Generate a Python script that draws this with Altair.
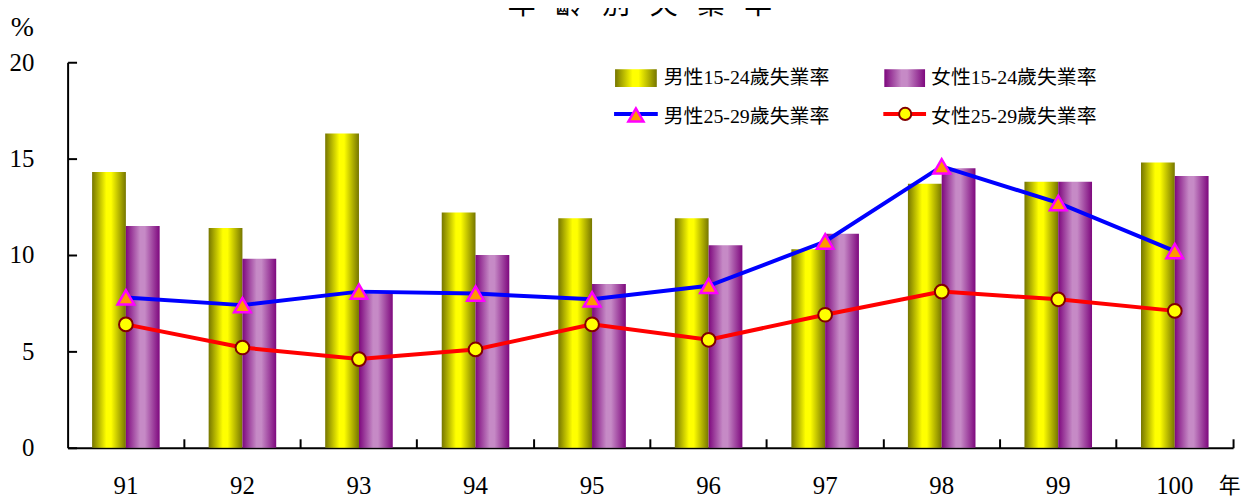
import altair as alt
import pandas as pd

# ---------------- data ----------------
years = ["91", "92", "93", "94", "95", "96", "97", "98", "99", "100"]
series_names = ["男性15-24歲失業率", "女性15-24歲失業率", "男性25-29歲失業率", "女性25-29歲失業率"]
male_15_24 = [14.3, 11.4, 16.3, 12.2, 11.9, 11.9, 10.3, 13.7, 13.8, 14.8]
female_15_24 = [11.5, 9.8, 8.0, 10.0, 8.5, 10.5, 11.1, 14.5, 13.8, 14.1]
male_25_29 = [7.8, 7.4, 8.1, 8.0, 7.7, 8.4, 10.7, 14.6, 12.7, 10.2]
female_25_29 = [6.4, 5.2, 4.6, 5.1, 6.4, 5.6, 6.9, 8.1, 7.7, 7.1]
y_ticks = [0, 5, 10, 15, 20]
title_text = "年\u2002\u2009齡\u2002\u2009別\u2002\u2009失\u2002\u2009業\u2002\u2009率"
y_unit = "%"
x_unit = "年"

FONT = "'Liberation Serif', 'Times New Roman', 'DejaVu Serif', 'Noto Sans CJK TC', serif"
CJK = "'Noto Sans CJK TC', sans-serif"

bars_m = pd.DataFrame({"year": years, "series": series_names[0], "value": male_15_24})
bars_f = pd.DataFrame({"year": years, "series": series_names[1], "value": female_15_24})
line_m = pd.DataFrame({"year": years, "idx": list(range(len(years))), "value": male_25_29})
line_f = pd.DataFrame({"year": years, "idx": list(range(len(years))), "value": female_25_29})
one = pd.DataFrame({"k": [0]})

W, H = 1173, 388

x_scale = alt.Scale(domain=years, paddingInner=0, paddingOuter=0)
y_scale = alt.Scale(domain=[0, 20], nice=False)
xoff_scale = alt.Scale(domain=series_names[:2], paddingInner=0, paddingOuter=0.725)


def grad(edge, mid):
    return {
        "gradient": "linear", "x1": 0, "x2": 1, "y1": 0, "y2": 0,
        "stops": [
            {"offset": 0, "color": edge},
            {"offset": 0.42, "color": mid},
            {"offset": 0.56, "color": mid},
            {"offset": 1, "color": edge},
        ],
    }


yellow = grad("#767600", "#ffff00")
purple = grad("#7e087e", "#c68ac6")

# main axes (domain + labels)
x_axis_main = alt.Axis(
    orient="bottom", domainColor="black", domainWidth=2, ticks=False, tickSize=0,
    labelPadding=38, labelBaseline="middle", labelFontSize=25, labelFont=FONT,
    labelColor="black", labelAngle=0, grid=False,
    title=x_unit, titleX=1169, titleY=38, titleBaseline="middle", titleAlign="center",
    titleFont=CJK, titleFontSize=22, titleFontWeight="normal", titleColor="black",
)
y_axis_main = alt.Axis(
    orient="left", domainColor="black", domainWidth=2, ticks=False, tickSize=0,
    values=y_ticks, labelPadding=34, labelFontSize=25, labelFont=FONT, labelColor="black",
    grid=False, title=y_unit, titleAngle=0, titleX=-46, titleY=-35, titleAlign="center",
    titleBaseline="middle", titleFont=FONT, titleFontSize=28, titleFontWeight="normal",
    titleColor="black",
)
# inward tick axes
x_axis_ticks = alt.Axis(
    orient="bottom", domain=False, labels=False, ticks=True, tickSize=9, tickWidth=2,
    tickColor="black", bandPosition=1, offset=-9, title=None, grid=False,
)
y_axis_ticks = alt.Axis(
    orient="left", domain=False, labels=False, ticks=True, tickSize=9, tickWidth=2,
    tickColor="black", values=y_ticks, offset=-9, title=None, grid=False,
)

bar_m = alt.Chart(bars_m).mark_bar(fill=yellow).encode(
    x=alt.X("year:N", scale=x_scale, axis=x_axis_main, sort=years),
    xOffset=alt.XOffset("series:N", scale=xoff_scale),
    y=alt.Y("value:Q", scale=y_scale, axis=y_axis_main),
)
bar_f = alt.Chart(bars_f).mark_bar(fill=purple).encode(
    x=alt.X("year:N", scale=x_scale, axis=x_axis_ticks, sort=years),
    xOffset=alt.XOffset("series:N", scale=xoff_scale),
    y=alt.Y("value:Q", scale=y_scale, axis=y_axis_ticks),
)


def xy():
    return dict(
        x=alt.X("year:N", scale=x_scale, axis=None, sort=years),
        y=alt.Y("value:Q", scale=y_scale, axis=None),
        order=alt.Order("idx:Q"),
    )


ln_m = alt.Chart(line_m).mark_line(color="#0000ff", strokeWidth=4).encode(**xy())
ln_f = alt.Chart(line_f).mark_line(color="#ff0000", strokeWidth=4).encode(**xy())
pt_m = alt.Chart(line_m).mark_point(
    shape="triangle-up", filled=True, fill="#ff9900", stroke="#ff00ff",
    strokeWidth=2.5, size=280, opacity=1,
).encode(**xy())
pt_f = alt.Chart(line_f).mark_point(
    shape="circle", filled=True, fill="#ffff00", stroke="#800000",
    strokeWidth=2, size=190, opacity=1,
).encode(**xy())

# title
title = alt.Chart(one).mark_text(
    font=CJK, fontSize=28, align="center", baseline="alphabetic", color="black"
).encode(x=alt.value(576), y=alt.value(-49), text=alt.value(title_text))

# legend
def leg_text(label, x, y):
    return alt.Chart(one).mark_text(
        font=FONT, fontSize=20, align="left", baseline="middle", color="black"
    ).encode(x=alt.value(x), y=alt.value(y), text=alt.value(label))


leg = [
    alt.Chart(one).mark_rect(fill=yellow).encode(
        x=alt.value(551), x2=alt.value(593), y=alt.value(7), y2=alt.value(25)),
    leg_text(series_names[0], 600, 16),
    alt.Chart(one).mark_rect(fill=purple).encode(
        x=alt.value(822), x2=alt.value(863), y=alt.value(7), y2=alt.value(25)),
    leg_text(series_names[1], 869, 16),
    alt.Chart(one).mark_rule(color="#0000ff", strokeWidth=4).encode(
        x=alt.value(550), x2=alt.value(594), y=alt.value(52)),
    alt.Chart(one).mark_point(
        shape="triangle-up", filled=True, fill="#ff9900", stroke="#ff00ff",
        strokeWidth=2.5, size=230, opacity=1).encode(x=alt.value(572), y=alt.value(53)),
    leg_text(series_names[2], 600, 55),
    alt.Chart(one).mark_rule(color="#ff0000", strokeWidth=4).encode(
        x=alt.value(821), x2=alt.value(864), y=alt.value(52)),
    alt.Chart(one).mark_point(
        shape="circle", filled=True, fill="#ffff00", stroke="#800000",
        strokeWidth=2, size=150, opacity=1).encode(x=alt.value(843), y=alt.value(52)),
    leg_text(series_names[3], 869, 55),
]

chart = alt.layer(bar_m, bar_f, ln_m, ln_f, pt_m, pt_f, title, *leg).resolve_axis(
    x="independent", y="independent"
).properties(
    width=W, height=H,
    padding={"left": 60, "top": 53, "right": 9, "bottom": 52},
    autosize=alt.AutoSizeParams(type="none"),
    background="white",
).configure_view(stroke=None)

chart.save("out.html", embed_options={"renderer": "svg", "actions": False})
